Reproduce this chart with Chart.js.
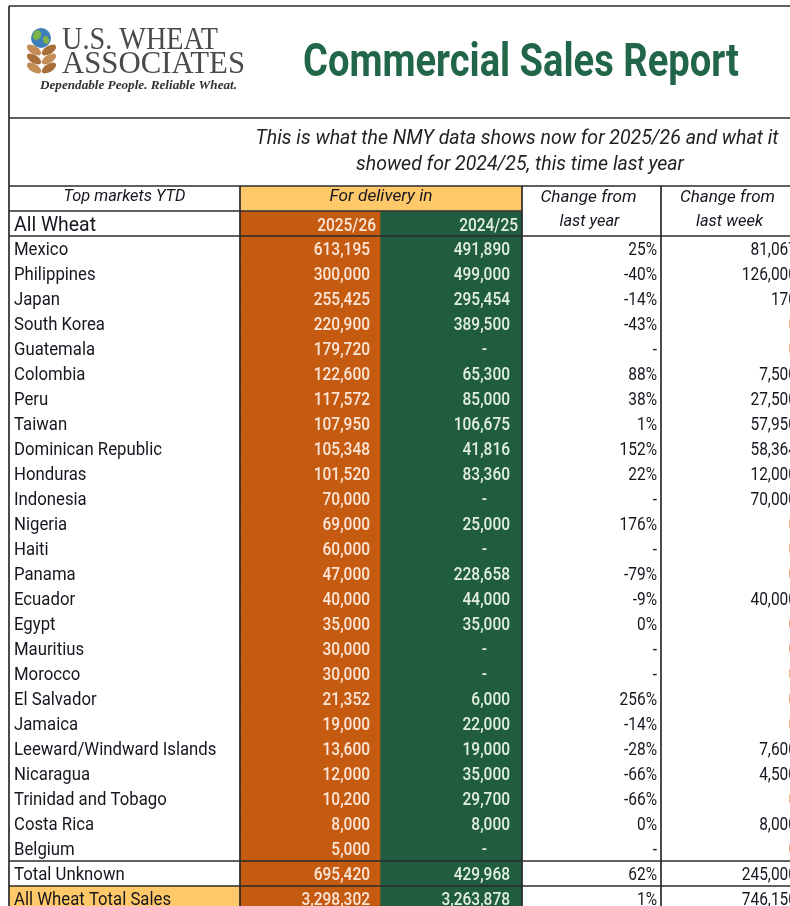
<!DOCTYPE html>
<html>
<head>
<meta charset="utf-8">
<title>Commercial Sales Report</title>
<script src="https://cdn.jsdelivr.net/npm/chart.js@4.4.1/dist/chart.umd.min.js"></script>
<style>
  html, body { margin: 0; padding: 0; background: #fff; overflow: hidden; }
</style>
</head>
<body>
<canvas id="salesChart" width="790" height="911"></canvas>
<script>
'use strict';

// ---- data ----
var markets = ['Mexico', 'Philippines', 'Japan', 'South Korea', 'Guatemala', 'Colombia', 'Peru', 'Taiwan',
  'Dominican Republic', 'Honduras', 'Indonesia', 'Nigeria', 'Haiti', 'Panama', 'Ecuador', 'Egypt',
  'Mauritius', 'Morocco', 'El Salvador', 'Jamaica', 'Leeward/Windward Islands', 'Nicaragua',
  'Trinidad and Tobago', 'Costa Rica', 'Belgium'];
var sales2526 = [613195, 300000, 255425, 220900, 179720, 122600, 117572, 107950, 105348, 101520, 70000,
  69000, 60000, 47000, 40000, 35000, 30000, 30000, 21352, 19000, 13600, 12000, 10200, 8000, 5000];
var sales2425 = [491890, 499000, 295454, 389500, null, 65300, 85000, 106675, 41816, 83360, null,
  25000, null, 228658, 44000, 35000, null, null, 6000, 22000, 19000, 35000, 29700, 8000, null];
var changeYear = [25, -40, -14, -43, null, 88, 38, 1, 152, 22, null, 176, null, -79, -9, 0, null, null,
  256, -14, -28, -66, -66, 0, null];
var changeWeek = [81067, 126000, 170, 0, 0, 7500, 27500, 57950, 58364, 12000, 70000, 0, 0, 0, 40000, 0,
  0, 0, 0, 0, 7600, 4500, 0, 8000, 0];

var totalLabels = ['Total Unknown', 'All Wheat Total Sales'];
var total2526 = [695420, 3298302];
var total2425 = [429968, 3263878];
var totalChangeYear = [62, 1];
var totalChangeWeek = [245000, 746150];

var seasons = ['2025/26', '2024/25'];
var groupLabel = 'All Wheat';
var title = 'Commercial Sales Report';
var subtitle = ['This is what the NMY data shows now for 2025/26 and what it',
  'showed for 2024/25, this time last year'];

// ---- layout ----
var colWidths = [231, 140, 142, 139, 139];
var colEdges = [0];
colWidths.forEach(function (w, i) { colEdges.push(colEdges[i] + w); });

var ORANGE = '#c55a11';
var GREEN = '#1f5c40';
var LIGHT = '#ffc869';
var LINE = '#2b2b2b';
var INK = '#16161f';
var ZERO = '#f2a262';

// rows: 0 = column header, 1 = season header, then markets, then totals
var rowNames = ['header', groupLabel].concat(markets, totalLabels);
var col2526 = [null, seasons[0]].concat(sales2526, total2526);
var col2425 = [null, seasons[1]].concat(sales2425, total2425);
var colYear = [null, null].concat(changeYear, totalChangeYear);
var colWeek = [null, null].concat(changeWeek, totalChangeWeek);

function fmt(n) { return n.toLocaleString('en-US'); }

function drawText(ctx, str, x, y, size, o) {
  o = o || {};
  ctx.save();
  ctx.font = (o.style || 'normal') + ' ' + (o.weight || '400') + ' ' + size + 'px ' + (o.family || 'Roboto');
  ctx.fillStyle = o.color || INK;
  ctx.textAlign = o.align || 'left';
  ctx.textBaseline = 'alphabetic';
  var sx = o.scale || 1;
  if (o.width) sx = o.width / ctx.measureText(str).width;
  ctx.translate(x, y);
  ctx.scale(sx, 1);
  ctx.fillText(str, 0, 0);
  ctx.restore();
}

// light figures on the coloured columns read a little heavier
function num(ctx, str, x, y, color) {
  var light = color !== INK && color !== ZERO;
  drawText(ctx, str, x, y, 18, { weight: light ? '500' : '400', scale: 0.86, align: 'right', color: color });
}

function line(ctx, x1, y1, x2, y2) {
  ctx.beginPath();
  ctx.moveTo(x1, y1);
  ctx.lineTo(x2, y2);
  ctx.stroke();
}

function drawLogo(ctx) {
  // globe
  ctx.save();
  ctx.fillStyle = '#3f7fb8';
  ctx.beginPath(); ctx.arc(41, 38, 10, 0, Math.PI * 2); ctx.fill();
  ctx.fillStyle = '#7db548';
  ctx.beginPath(); ctx.ellipse(37, 35, 4, 5, 0.4, 0, Math.PI * 2); ctx.fill();
  ctx.beginPath(); ctx.ellipse(46, 40, 3, 4, -0.3, 0, Math.PI * 2); ctx.fill();
  // wheat leaves
  var ys = [50, 59, 68];
  ys.forEach(function (y, i) {
    ctx.fillStyle = i % 2 ? '#a86f3b' : '#c48d57';
    ctx.beginPath(); ctx.ellipse(34, y, 8, 4, 0.55, 0, Math.PI * 2); ctx.fill();
    ctx.fillStyle = i % 2 ? '#c48d57' : '#a86f3b';
    ctx.beginPath(); ctx.ellipse(49, y, 8, 4, -0.55, 0, Math.PI * 2); ctx.fill();
  });
  ctx.restore();
  drawText(ctx, 'U.S. WHEAT', 62, 49, 31, { family: '"Liberation Serif"', color: '#4a4a4a', width: 156 });
  drawText(ctx, 'ASSOCIATES', 62, 73, 31, { family: '"Liberation Serif"', color: '#4a4a4a', width: 183 });
  drawText(ctx, 'Dependable People. Reliable Wheat.', 40, 89, 12,
    { family: '"Liberation Serif"', style: 'italic', weight: '700', color: '#333', width: 197 });
}

var tablePlugin = {
  id: 'salesTable',
  beforeDraw: function (chart) {
    var ctx = chart.ctx;
    ctx.save();
    ctx.fillStyle = '#fff';
    ctx.fillRect(0, 0, chart.width, chart.height);
    ctx.restore();
    drawLogo(ctx);
    drawText(ctx, title, 303, 76, 46, { weight: '700', color: '#22664a', width: 436 });
    drawText(ctx, subtitle[0], 517, 144, 21, { style: 'italic', color: '#222', align: 'center', width: 523 });
    drawText(ctx, subtitle[1], 520, 170, 21, { style: 'italic', color: '#222', align: 'center', width: 328 });
  },
  afterDatasetsDraw: function (chart) {
    var ctx = chart.ctx;
    var xs = chart.scales.x, ys = chart.scales.y;
    var cx = colEdges.map(function (v) { return xs.getPixelForValue(v); });
    var half = (ys.getPixelForValue(1) - ys.getPixelForValue(0)) / 2;
    function top(i) { return ys.getPixelForValue(i) - half; }
    var last = rowNames.length - 1;
    var bottom = top(last) + 2 * half;
    var W = chart.width;

    // borders
    ctx.save();
    ctx.strokeStyle = LINE;
    ctx.lineWidth = 1.7;
    line(ctx, cx[0], 6, W, 6);
    line(ctx, cx[0], 6, cx[0], bottom);
    line(ctx, cx[0], 118, W, 118);
    line(ctx, cx[0], top(0), W, top(0));
    line(ctx, cx[0], top(1), cx[3], top(1));
    line(ctx, cx[0], top(2), W, top(2));
    line(ctx, cx[0], top(last - 1), W, top(last - 1));
    line(ctx, cx[0], top(last), W, top(last));
    [1, 3, 4].forEach(function (k) { line(ctx, cx[k], top(0), cx[k], bottom); });
    ctx.restore();

    // header texts
    var y0 = ys.getPixelForValue(0), y1 = ys.getPixelForValue(1);
    var hd = { style: 'italic', align: 'center' };
    drawText(ctx, 'Top markets YTD', (cx[0] + cx[1]) / 2, y0 + 2, 16, Object.assign({ width: 122 }, hd));
    drawText(ctx, 'For delivery in', (cx[1] + cx[3]) / 2, y0 + 2, 16, Object.assign({ width: 103 }, hd));
    drawText(ctx, 'Change from', (cx[3] + cx[4]) / 2 - 3, y0 + 3, 16, Object.assign({ width: 96 }, hd));
    drawText(ctx, 'last year', (cx[3] + cx[4]) / 2 - 2, y1 + 2, 16, Object.assign({ width: 60 }, hd));
    drawText(ctx, 'Change from', (cx[4] + cx[5]) / 2 - 3, y0 + 3, 16, Object.assign({ width: 95 }, hd));
    drawText(ctx, 'last week', (cx[4] + cx[5]) / 2 - 1, y1 + 2, 16, Object.assign({ width: 67 }, hd));
    drawText(ctx, groupLabel, cx[0] + 5, y1 + 7, 21, { width: 82 });
    num(ctx, col2526[1], cx[2] - 4, y1 + 7, '#fbe5d6');
    num(ctx, col2425[1], cx[3] - 4, y1 + 7, '#e2efda');

    // body rows
    for (var i = 2; i <= last; i++) {
      var by = ys.getPixelForValue(i) + 6.5;
      drawText(ctx, rowNames[i], cx[0] + 5, by, 18, { scale: 0.93 });
      num(ctx, fmt(col2526[i]), cx[2] - 10, by, '#fbe5d6');
      num(ctx, col2425[i] === null ? '-' : fmt(col2425[i]), cx[3] - (col2425[i] === null ? 35 : 12), by, '#e2efda');
      num(ctx, colYear[i] === null ? '-' : colYear[i] + '%', cx[4] - 4, by, INK);
      if (colWeek[i] === 0) {
        num(ctx, '0', cx[5] - 3, by, ZERO);
      } else {
        num(ctx, fmt(colWeek[i]), cx[5] - 3, by, INK);
      }
    }
  }
};

var rowIdx = rowNames.map(function (n, i) { return i; });
var ctx = document.getElementById('salesChart').getContext('2d');
var salesChart = new Chart(ctx, {
  type: 'bar',
  data: {
    labels: rowNames,
    datasets: [{
      label: 'For delivery in',
      data: rowIdx.map(function (i) { return i === 0 ? [colEdges[1], colEdges[3]] : null; }),
      backgroundColor: LIGHT
    }, {
      label: seasons[0],
      data: col2526.map(function (v) { return v === null ? null : [colEdges[1], colEdges[2]]; }),
      backgroundColor: ORANGE
    }, {
      label: seasons[1],
      data: rowIdx.map(function (i) { return i === 0 ? null : [colEdges[2], colEdges[3]]; }),
      backgroundColor: GREEN
    }, {
      label: 'Total',
      data: rowIdx.map(function (i) { return rowNames[i] === totalLabels[1] ? [colEdges[0], colEdges[1]] : null; }),
      backgroundColor: LIGHT
    }]
  },
  options: {
    indexAxis: 'y',
    responsive: false,
    animation: false,
    events: [],
    grouped: false,
    barPercentage: 1,
    categoryPercentage: 1,
    borderWidth: 0,
    layout: { padding: { left: 9, right: 0, top: 186, bottom: 0 } },
    scales: {
      x: { type: 'linear', min: 0, max: 781, display: false },
      y: { type: 'category', display: false }
    },
    plugins: {
      legend: { display: false },
      tooltip: { enabled: false }
    }
  },
  plugins: [tablePlugin]
});
</script>
</body>
</html>
